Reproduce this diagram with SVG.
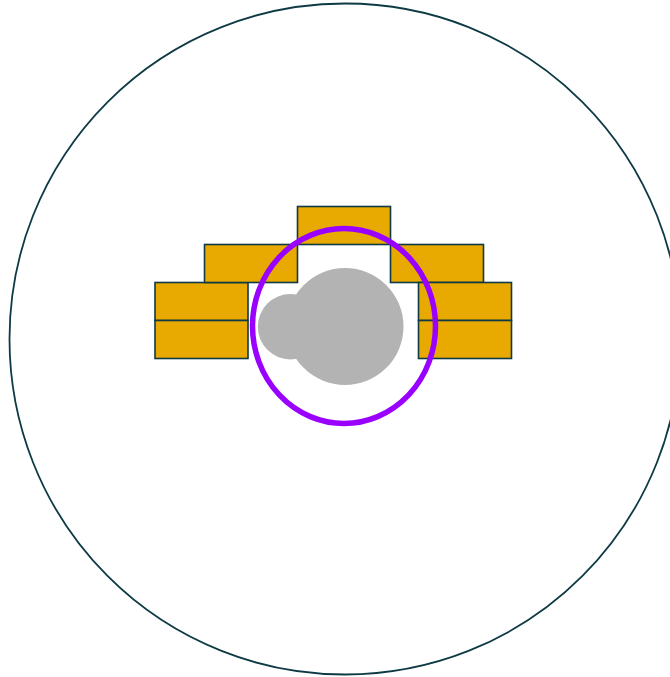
<svg xmlns="http://www.w3.org/2000/svg" width="670" height="677" viewBox="0 0 670 677">
<style>
.brick{fill:#e8a900;stroke:#0d3a44;stroke-width:1.6}
.gray{fill:#b2b3b2}
</style>
<rect width="670" height="677" fill="#ffffff"/>
<g id="outer"><circle cx="345" cy="339" r="335.5" fill="none" stroke="#0d3a44" stroke-width="1.8"/></g>
<g id="bricks">
<rect id="b1" class="brick" x="155" y="282.5" width="93" height="38"/>
<rect id="b2" class="brick" x="155" y="320.5" width="93" height="38"/>
<rect id="b3" class="brick" x="204.5" y="244.5" width="93" height="38"/>
<rect id="b4" class="brick" x="297.5" y="206.5" width="93" height="38"/>
<rect id="b5" class="brick" x="390.5" y="244.5" width="93" height="38"/>
<rect id="b6" class="brick" x="418.5" y="282.5" width="93" height="38"/>
<rect id="b7" class="brick" x="418.5" y="320.5" width="93" height="38"/>
</g>
<g id="cloud">
<circle class="gray" cx="290.5" cy="326.7" r="32.7"/>
<circle class="gray" cx="345" cy="326.5" r="58.5"/>
</g>
<g id="ring"><ellipse cx="344" cy="326" rx="91.5" ry="97.5" fill="none" stroke="#9900ff" stroke-width="5.5"/></g>
</svg>
